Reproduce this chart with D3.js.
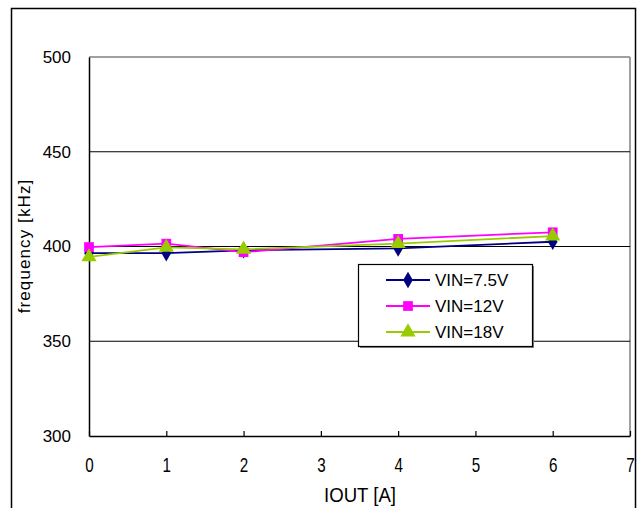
<!DOCTYPE html>
<html><head><meta charset="utf-8">
<script src="https://cdn.jsdelivr.net/npm/d3@7"></script>
<style>body{margin:0;background:#fff}svg{display:block}</style>
</head><body>
<script>
const xValues = [0, 1, 2, 4, 6];
const vin75 = [396.5, 396.5, 398, 399, 402.5];
const vin12 = [399.7, 401.5, 397, 404, 407.5];
const vin18 = [394.5, 399.5, 398.5, 401.5, 405.5];
const seriesNames = ["VIN=7.5V", "VIN=12V", "VIN=18V"];
const xTicks = [0, 1, 2, 3, 4, 5, 6, 7];
const yTicks = [300, 350, 400, 450, 500];
const xTitle = "IOUT [A]";
const yTitle = "frequency [kHz]";

const W = 643, H = 508;
const svg = d3.select("body").append("svg").attr("width", W).attr("height", H);
svg.append("rect").attr("width", W).attr("height", H).attr("fill", "#fff");

// outer frame
svg.append("rect").attr("x", 11.5).attr("y", 8.5).attr("width", 624).attr("height", 510)
  .attr("fill", "none").attr("stroke", "#000").attr("stroke-width", 1.5);

const L = 89, R = 630, T = 57, B = 436;
const x = d3.scaleLinear().domain([0, 7]).range([L, R]);
const y = d3.scaleLinear().domain([300, 500]).range([B, T]);

// plot frame top/right gray
svg.append("line").attr("x1", L).attr("x2", R).attr("y1", y(500)).attr("y2", y(500)).attr("stroke", "#808080").attr("stroke-width", 1.5);
svg.append("line").attr("x1", R).attr("x2", R).attr("y1", T).attr("y2", B).attr("stroke", "#808080").attr("stroke-width", 1.5);

// gridlines
svg.append("g").selectAll("line").data(yTicks.filter(d => d > 300 && d < 500)).join("line")
  .attr("x1", L).attr("x2", R).attr("y1", d => y(d)).attr("y2", d => y(d))
  .attr("stroke", "#000").attr("stroke-width", 1.2);

// y axis
const yAxis = d3.axisLeft(y).tickValues(yTicks).tickSize(0).tickPadding(18);
const gy = svg.append("g").attr("transform", `translate(${L},0)`).call(yAxis);
gy.select(".domain").attr("stroke", "#000").attr("stroke-width", 1.5);
gy.selectAll("text").attr("font-family", "Liberation Sans, Arial, sans-serif").attr("font-size", 17).attr("fill", "#000");

// x axis
const xAxis = d3.axisBottom(x).tickValues(xTicks).tickSizeInner(-5).tickSizeOuter(0).tickPadding(0).tickFormat(d3.format("d"));
const gx = svg.append("g").attr("transform", `translate(0,${B})`).call(xAxis);
gx.select(".domain").attr("stroke", "#000").attr("stroke-width", 1.5);
gx.selectAll(".tick line").attr("stroke", "#000").attr("stroke-width", 1.2);
gx.selectAll("text")
  .attr("y", 0).attr("dy", null)
  .attr("transform", "translate(0,36) scale(0.76,1)")
  .attr("font-family", "Liberation Sans, Arial, sans-serif").attr("font-size", 20).attr("fill", "#000");

// titles
svg.append("text").attr("transform", "translate(360,502) scale(0.93,1)").attr("text-anchor", "middle")
  .attr("font-family", "Liberation Sans, Arial, sans-serif").attr("font-size", 20).text(xTitle);
svg.append("text").attr("transform", "translate(30,246) rotate(-90)").attr("text-anchor", "middle")
  .attr("font-family", "Liberation Sans, Arial, sans-serif").attr("font-size", 17).attr("letter-spacing", "1.1px").text(yTitle);

const series = [
  { name: seriesNames[0], values: vin75, color: "#000080", sym: d3.symbolDiamond, size: 80 },
  { name: seriesNames[1], values: vin12, color: "#FF00FF", sym: d3.symbolSquare, size: 95 },
  { name: seriesNames[2], values: vin18, color: "#99CC00", sym: d3.symbolTriangle, size: 100 }
];
const line = d3.line().x(d => x(d[0])).y(d => y(d[1]));
series.forEach(s => {
  const pts = xValues.map((v, i) => [v, s.values[i]]);
  svg.append("path").datum(pts).attr("d", line).attr("fill", "none").attr("stroke", s.color).attr("stroke-width", 1.8);
});
series.forEach(s => {
  const pts = xValues.map((v, i) => [v, s.values[i]]);
  svg.append("g").selectAll("path").data(pts).join("path")
    .attr("transform", d => `translate(${x(d[0])},${y(d[1])})`)
    .attr("d", d3.symbol().type(s.sym).size(s.size)).attr("fill", s.color);
});

// legend
const lg = svg.append("g");
lg.append("rect").attr("x", 360).attr("y", 266).attr("width", 174).attr("height", 82).attr("fill", "#808080");
lg.append("rect").attr("x", 358.5).attr("y", 264.5).attr("width", 174).attr("height", 82).attr("fill", "#fff").attr("stroke", "#000").attr("stroke-width", 1.2);
series.forEach((s, i) => {
  const yy = 280 + i * 26;
  lg.append("line").attr("x1", 386).attr("x2", 430).attr("y1", yy).attr("y2", yy).attr("stroke", s.color).attr("stroke-width", 1.8);
  lg.append("path").attr("transform", `translate(408,${yy})`).attr("d", d3.symbol().type(s.sym).size(s.size)).attr("fill", s.color);
  lg.append("text").attr("x", 435).attr("y", yy).attr("dy", "0.35em")
    .attr("font-family", "Liberation Sans, Arial, sans-serif").attr("font-size", 17).text(s.name);
});
</script>
</body></html>
